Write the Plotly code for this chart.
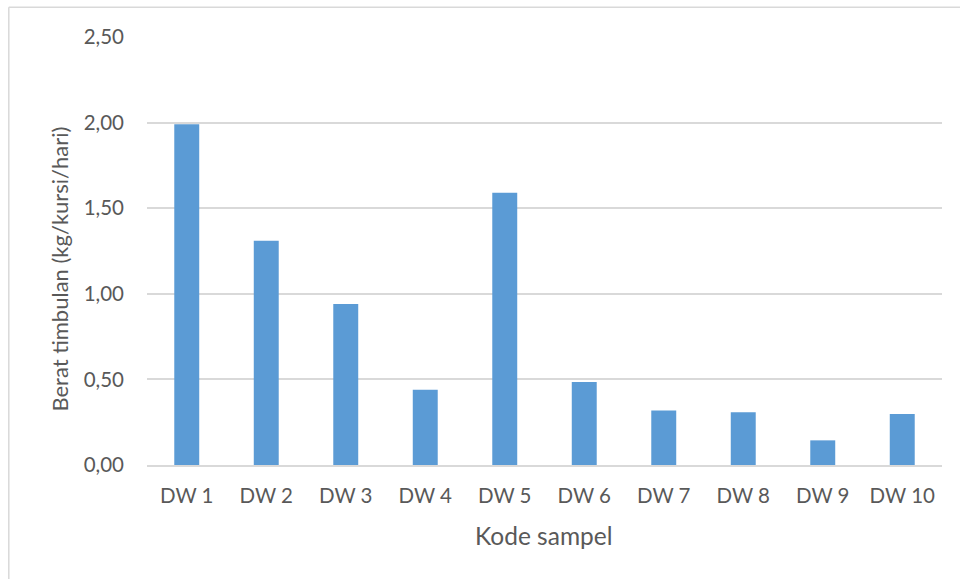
import plotly.graph_objects as go

categories = ["DW 1", "DW 2", "DW 3", "DW 4", "DW 5", "DW 6", "DW 7", "DW 8", "DW 9", "DW 10"]
values = [1.99, 1.31, 0.94, 0.44, 1.59, 0.485, 0.318, 0.308, 0.144, 0.298]
y_ticks = [0.0, 0.5, 1.0, 1.5, 2.0, 2.5]
y_tick_labels = ["0,00", "0,50", "1,00", "1,50", "2,00", "2,50"]
x_title = "Kode sampel"
y_title = "Berat timbulan (kg/kursi/hari)"

W, H = 960, 579
L, R, T, B = 146.7, 941.7, 36.7, 464.7
pw, ph = R - L, B - T

def px_x(p):
    return (p - L) / pw

def px_y(p):
    return (B - p) / ph

font_family = "Lato, 'Open Sans', sans-serif"
text_color = "#595959"
grid_color = "#d9d9d9"

fig = go.Figure(go.Bar(
    x=categories, y=values,
    marker=dict(color="#5B9BD5", line=dict(width=0)),
))

fig.update_layout(
    width=W, height=H,
    margin=dict(l=L, r=W - R, t=T, b=H - B, autoexpand=False),
    paper_bgcolor="white", plot_bgcolor="white",
    bargap=0.686,
    showlegend=False,
    font=dict(family=font_family, color=text_color, size=20),
    shapes=[
        dict(type="line", xref="paper", yref="paper",
             x0=px_x(8.5), x1=px_x(8.5), y0=px_y(600), y1=px_y(7),
             line=dict(color=grid_color, width=1.5)),
        dict(type="line", xref="paper", yref="paper",
             x0=px_x(8.5), x1=px_x(980), y0=px_y(7), y1=px_y(7),
             line=dict(color=grid_color, width=1.5)),
    ],
    annotations=[
        dict(text=x_title, xref="paper", yref="paper", x=px_x(544), y=px_y(535),
             xanchor="center", yanchor="middle", showarrow=False,
             font=dict(size=24.5, color=text_color, family=font_family)),
        dict(text=y_title, xref="paper", yref="paper", x=px_x(59), y=px_y(269),
             xanchor="center", yanchor="middle", showarrow=False, textangle=-90,
             font=dict(size=22, color=text_color, family=font_family)),
    ],
)

fig.update_xaxes(
    showgrid=False, showline=True, linecolor=grid_color, linewidth=1.5,
    ticks="", ticklabelstandoff=12,
    tickfont=dict(size=20.5, color=text_color, family=font_family),
)
fig.update_yaxes(
    range=[0, 2.5], tickvals=y_ticks, ticktext=y_tick_labels,
    showgrid=True, gridcolor=grid_color, gridwidth=1.5,
    zeroline=False, showline=False, ticks="", ticklabelstandoff=22,
    tickfont=dict(size=20.5, color=text_color, family=font_family),
)

fig.write_html("out.html", config={"displayModeBar": False},
               post_script="document.body.style.margin='0';document.body.style.overflow='hidden';")
